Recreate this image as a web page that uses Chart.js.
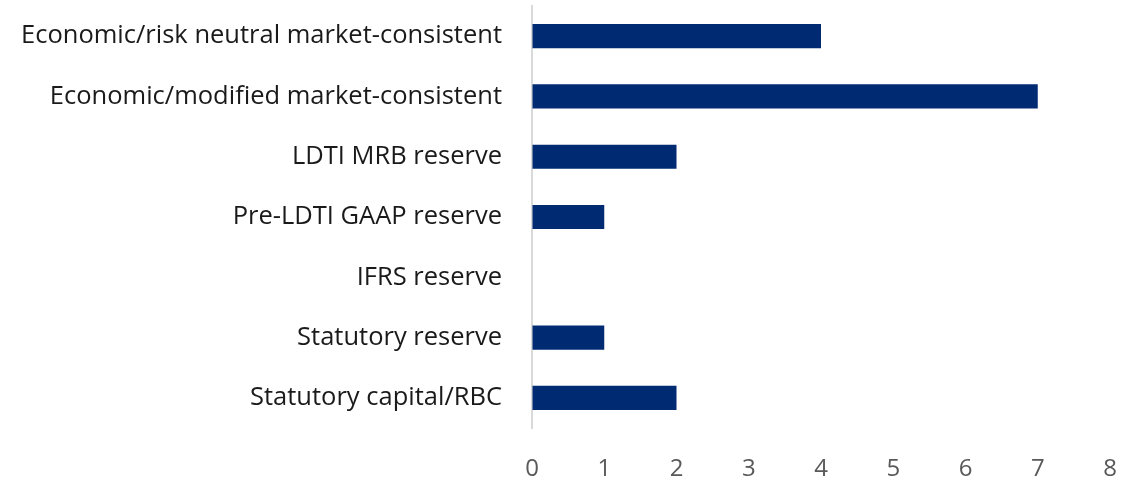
<!DOCTYPE html>
<html>
<head>
<meta charset="utf-8">
<script src="https://cdn.jsdelivr.net/npm/chart.js@4/dist/chart.umd.min.js"></script>
<style>
  html, body { margin: 0; padding: 0; background: #fff; }
  #wrap { width: 1122px; height: 482px; position: relative; }
</style>
</head>
<body>
<div id="wrap"><canvas id="chart"></canvas></div>
<script>
// categories top to bottom, with the count for each
const categories = [
  'Economic/risk neutral market-consistent',
  'Economic/modified market-consistent',
  'LDTI MRB reserve',
  'Pre-LDTI GAAP reserve',
  'IFRS reserve',
  'Statutory reserve',
  'Statutory capital/RBC'
];
const counts = [4, 7, 2, 1, 0, 1, 2];
const xMin = 0;
const xMax = 8;

const FONT = "'Open Sans', sans-serif";

new Chart(document.getElementById('chart'), {
  type: 'bar',
  data: {
    labels: categories,
    datasets: [{
      data: counts,
      backgroundColor: '#002B72',
      borderWidth: 0,
      barPercentage: 0.4,
      categoryPercentage: 1
    }]
  },
  options: {
    indexAxis: 'y',
    responsive: true,
    maintainAspectRatio: false,
    animation: false,
    layout: { padding: { top: 6, right: 12, left: 0, bottom: 0 } },
    plugins: { legend: { display: false }, tooltip: { enabled: false } },
    scales: {
      x: {
        min: xMin,
        max: xMax,
        ticks: { stepSize: 1, color: '#595959', font: { family: FONT, size: 24 }, padding: 2 },
        // invisible tick marks just push the labels down
        grid: { display: true, drawOnChartArea: false, drawTicks: true, tickLength: 25, tickColor: 'rgba(0,0,0,0)' },
        border: { display: false },
        afterFit(scale) { scale.height = 54; }
      },
      y: {
        ticks: { color: '#1a1a1a', font: { family: FONT, size: 25.5, lineHeight: 0.4 }, padding: 0 },
        grid: { display: true, drawOnChartArea: false, drawTicks: true, tickLength: 30, tickColor: 'rgba(0,0,0,0)' },
        border: { display: true, color: '#D9D9D9', width: 2 },
        afterFit(scale) { scale.width = 532; }
      }
    }
  }
});
</script>
</body>
</html>
